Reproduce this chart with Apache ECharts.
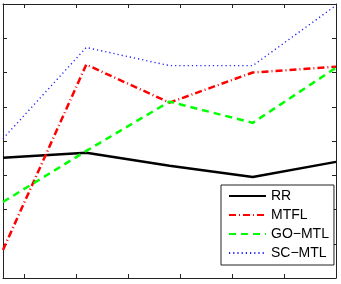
<!DOCTYPE html>
<html>
<head>
<meta charset="utf-8">
<script src="https://cdn.jsdelivr.net/npm/echarts@6/dist/echarts.min.js"></script>
<style>
  html, body { margin: 0; padding: 0; background: #fff; }
  #chart { width: 341px; height: 284px; }
</style>
</head>
<body>
<div id="chart"></div>
<script>
// x positions of the samples and the (unlabelled) tick marks
const xs = [8, 16, 24, 32, 40];
const xTicks = [10, 15, 20, 25, 30, 35, 40];

// values in y tick units (0..8)
const rr = [3.51, 3.66, 3.28, 2.95, 3.39];
const mtfl = [0.82, 6.23, 5.12, 6.0, 6.17];
const goMtl = [2.22, 3.71, 5.15, 4.53, 6.14];
const scMtl = [4.07, 6.73, 6.2, 6.2, 7.96];

const names = ['RR', 'MTFL', 'GO\u2212MTL', 'SC\u2212MTL'];

function pairs(ys) {
  return xs.map((x, i) => [x, ys[i]]);
}

function xAxisOf(pos) {
  return {
    type: 'value',
    position: pos,
    min: 8,
    max: 40,
    axisLine: { show: true, onZero: false, lineStyle: { color: '#222', width: 1 } },
    axisTick: { show: true, inside: true, length: 4, customValues: xTicks, lineStyle: { color: '#222' } },
    axisLabel: { show: false },
    splitLine: { show: false }
  };
}

function yAxisOf(pos) {
  return {
    type: 'value',
    position: pos,
    min: 0,
    max: 8,
    interval: 1,
    axisLine: { show: true, onZero: false, lineStyle: { color: '#222', width: 1 } },
    axisTick: { show: true, inside: true, length: 4, lineStyle: { color: '#222' } },
    axisLabel: { show: false },
    splitLine: { show: false }
  };
}

let chart = echarts.init(document.getElementById('chart'));
let option = {
  animation: false,
  backgroundColor: '#fff',
  grid: { left: 3, right: 5, top: 4, bottom: 6 },
  xAxis: [xAxisOf('bottom'), xAxisOf('top')],
  yAxis: [yAxisOf('left'), yAxisOf('right')],
  legend: {
    orient: 'vertical',
    left: 221,
    top: 185,
    padding: [4, 5, 5, 7],
    itemWidth: 37,
    itemHeight: 14,
    itemGap: 5,
    backgroundColor: '#fff',
    borderColor: '#222',
    borderWidth: 1,
    borderRadius: 0,
    // hide the marker, keep only the line sample
    itemStyle: { opacity: 0 },
    textStyle: { fontFamily: 'Liberation Sans, Arial, sans-serif', fontSize: 14, color: '#000' },
    data: names
  },
  series: [
    {
      name: names[0], type: 'line', data: pairs(rr), symbol: 'none',
      lineStyle: { color: '#000', width: 2.5, type: 'solid' }, itemStyle: { color: '#000' }
    },
    {
      name: names[1], type: 'line', data: pairs(mtfl), symbol: 'none',
      lineStyle: { color: '#ff0000', width: 2.5, type: [7, 3, 1, 3] }, itemStyle: { color: '#ff0000' }
    },
    {
      name: names[2], type: 'line', data: pairs(goMtl), symbol: 'none',
      lineStyle: { color: '#00ff00', width: 2.5, type: [7, 5] }, itemStyle: { color: '#00ff00' }
    },
    {
      name: names[3], type: 'line', data: pairs(scMtl), symbol: 'none',
      lineStyle: { color: '#2020ff', width: 1.4, type: [1.2, 3] }, itemStyle: { color: '#2020ff' }
    }
  ]
};
chart.setOption(option);
</script>
</body>
</html>
